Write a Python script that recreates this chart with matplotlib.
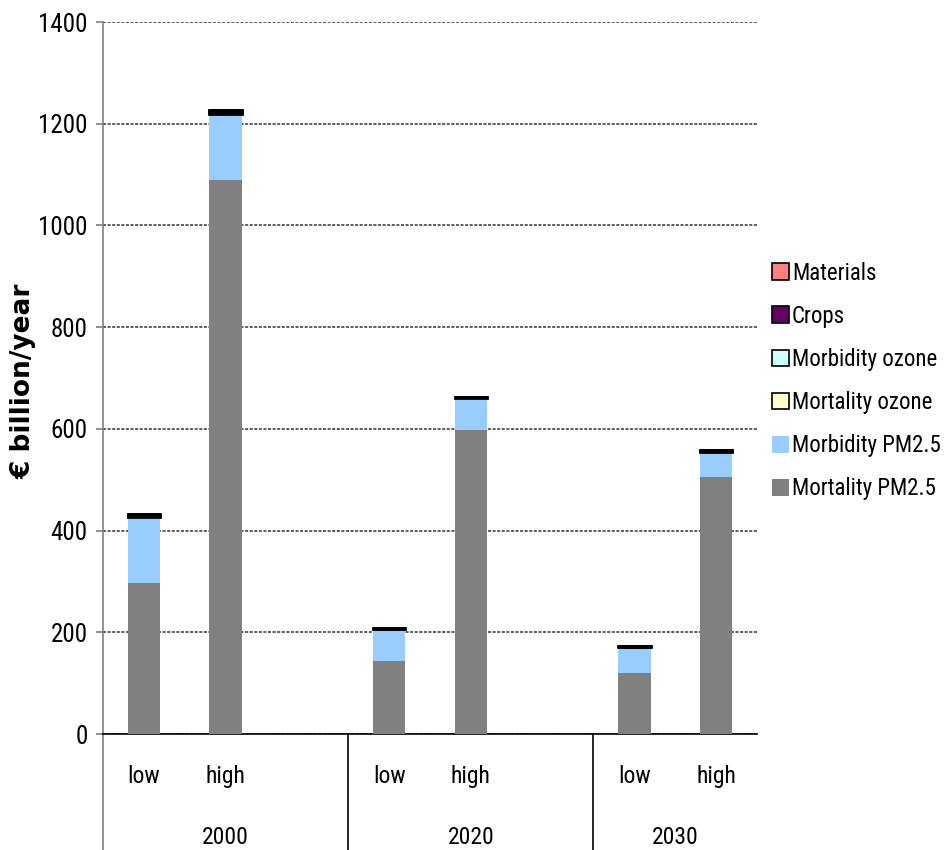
import matplotlib
matplotlib.use("Agg")
import matplotlib.pyplot as plt
import matplotlib.transforms as mtransforms
from matplotlib.patches import Patch
from matplotlib import font_manager
import numpy as np

# Scenario values, € billion per year
years = ["2000", "2020", "2030"]
cases = ["low", "high"]
mortality_pm25 = [297, 1089, 144, 598, 120, 505]
morbidity_pm25 = [130, 131, 62, 63, 51, 50]
mortality_ozone = [2, 2, 1, 1, 1, 1]
morbidity_ozone = [3, 3, 1, 1, 1, 1.5]
crops = [1, 1, 0.3, 0.3, 0.3, 0.3]
materials = [0.5, 0.5, 0.2, 0.2, 0.2, 0.2]

series = [
    ("Mortality PM2.5", mortality_pm25, "#808080", False),
    ("Morbidity PM2.5", morbidity_pm25, "#99CCFF", False),
    ("Mortality ozone", mortality_ozone, "#FFFFCC", True),
    ("Morbidity ozone", morbidity_ozone, "#CCFFFF", True),
    ("Crops", crops, "#660066", True),
    ("Materials", materials, "#FF8080", True),
]

# pick a condensed face for the axis text when one is available
names = {f.name for f in font_manager.fontManager.ttflist}
narrow_family = ["DejaVu Sans"]
for cand in ["Liberation Sans Narrow", "Roboto Condensed", "Open Sans Condensed"]:
    if cand in names:
        narrow_family = [cand, "DejaVu Sans"]
        break

plt.rcParams["font.family"] = narrow_family

fig = plt.figure(figsize=(9.45, 8.5), dpi=100)
ax = fig.add_axes([103 / 945, 1 - 734 / 850, 654 / 945, 712 / 850])

# each year group occupies three slots: low, high, gap
xpos = np.array([0, 1, 3, 4, 6, 7], dtype=float)
bottom = np.zeros(len(xpos))
for name, vals, color, edged in series:
    vals = np.array(vals, dtype=float)
    if edged:
        ax.bar(xpos, vals, 0.4, bottom=bottom, color=color,
               edgecolor="black", linewidth=2.0, zorder=3)
    else:
        ax.bar(xpos, vals, 0.4, bottom=bottom, color=color,
               linewidth=0, zorder=3)
    bottom += vals

ax.set_xlim(-0.5, 7.5)
ax.set_ylim(0, 1400)
ax.set_yticks(range(0, 1401, 200))
ax.yaxis.grid(True, color="#333333", linestyle=(0, (2, 1)), linewidth=1.1, zorder=0)
ax.set_axisbelow(True)

for s in ["top", "right"]:
    ax.spines[s].set_visible(False)
ax.spines["left"].set_color("#808080")
ax.spines["left"].set_linewidth(1.2)
ax.spines["bottom"].set_color("black")
ax.spines["bottom"].set_linewidth(1.2)
ax.tick_params(axis="y", direction="out", length=5, width=1.2, color="#808080",
               labelsize=18, pad=6)

ax.set_xticks(xpos)
ax.set_xticklabels(cases * len(years), fontsize=17)
ax.tick_params(axis="x", length=0, pad=22)

trans = mtransforms.blended_transform_factory(ax.transData, ax.transAxes)
offset = mtransforms.ScaledTranslation(0, -104 / 100, fig.dpi_scale_trans)
group_edges = [-0.5, 2.5, 5.5, 7.5]
for i, yr in enumerate(years):
    cx = (group_edges[i] + group_edges[i + 1]) / 2
    ax.text(cx, 0, yr, transform=trans + offset, ha="center", va="center",
            fontsize=17)

# group separators below the axis
for gx, col in [(-0.5, "#808080"), (2.5, "black"), (5.5, "black")]:
    ax.plot([gx, gx], [0, -0.2], transform=trans, color=col, lw=1.2,
            clip_on=False)

fig.text(24 / 945, 1 - 381 / 850, "€ billion/year", family="DejaVu Sans",
         fontweight="bold", fontsize=19, rotation=90, ha="center", va="center")

handles = []
for name, vals, color, edged in reversed(series):
    handles.append(Patch(facecolor=color,
                         edgecolor="black" if edged else color,
                         linewidth=1.2 if edged else 0, label=name))
fig.legend(handles=handles, loc="center left",
           bbox_to_anchor=(772 / 945, 1 - 381 / 850), frameon=False,
           fontsize=16.5, handlelength=0.75, handleheight=0.75, handletextpad=0.12,
           labelspacing=0.88, borderaxespad=0, borderpad=0)

fig.savefig("out.png", dpi=100)
